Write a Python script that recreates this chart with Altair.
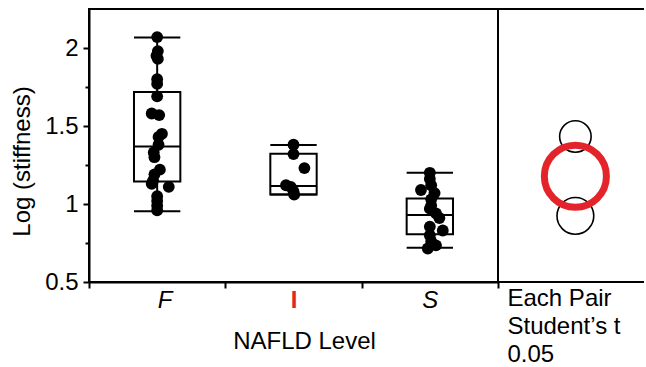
import altair as alt
import pandas as pd

# ---------------- data ----------------
groups = ["F", "I", "S"]

f_values = [2.07, 1.98, 1.95, 1.93, 1.80, 1.77, 1.69, 1.58, 1.57, 1.45, 1.43, 1.38,
            1.33, 1.30, 1.22, 1.19, 1.15, 1.13, 1.11, 1.05, 1.02, 0.99, 0.96]
f_jitter = [0.0, 0.01, -0.01, 0.01, 0.0, 0.0, 0.0, -0.08, 0.03, 0.07, 0.02, 0.02,
            -0.05, -0.04, 0.04, -0.04, -0.06, -0.08, 0.17, 0.0, 0.0, 0.0, 0.0]

i_values = [1.38, 1.32, 1.23, 1.12, 1.11, 1.08, 1.06]
i_jitter = [0.0, 0.0, 0.16, -0.11, -0.04, 0.0, 0.01]

s_values = [1.20, 1.16, 1.12, 1.09, 1.07, 1.03, 0.99, 0.97, 0.94, 0.91, 0.855,
            0.83, 0.80, 0.76, 0.735, 0.715]
s_jitter = [0.0, 0.0, 0.02, -0.13, 0.07, 0.02, 0.02, 0.0, 0.09, 0.14, 0.0,
            0.19, 0.0, 0.02, 0.09, -0.03]

box_q1 = [1.145, 1.061, 0.806]
box_median = [1.369, 1.115, 0.930]
box_q3 = [1.718, 1.322, 1.035]
whisker_lo = [0.953, 1.061, 0.720]
whisker_hi = [2.068, 1.379, 1.200]

circle_mean = [1.433, 1.178, 0.924]
circle_radius = [0.101, 0.199, 0.118]

# ---------------- layout / style ----------------
Y_MIN, Y_MAX = 0.5, 2.25
W_LEFT, W_RIGHT, H = 409, 146, 273
FONT = "Liberation Sans"
FS = 24
RED = "#e4242b"
BOX_HALF = 0.17   # half box width, in category units

idx = {g: i + 1 for i, g in enumerate(groups)}
points = pd.DataFrame({
    "group": ["F"] * len(f_values) + ["I"] * len(i_values) + ["S"] * len(s_values),
    "value": f_values + i_values + s_values,
    "jitter": f_jitter + i_jitter + s_jitter,
})
points["idx"] = points["group"].map(idx)
boxes = pd.DataFrame({
    "group": groups, "q1": box_q1, "median": box_median, "q3": box_q3,
    "lo": whisker_lo, "hi": whisker_hi,
})
boxes["idx"] = boxes["group"].map(idx)

px_per_unit = H / (Y_MAX - Y_MIN)
circles = pd.DataFrame({
    "group": groups,
    "mean": circle_mean,
    "radius": circle_radius,
    "pair": [0.53] * 3,
})
circles["size"] = (2 * circles["radius"] * px_per_unit) ** 2

yscale = alt.Scale(domain=[Y_MIN, Y_MAX], nice=False, zero=False)
yaxis = alt.Axis(
    title="Log (stiffness)", values=[0.5, 0.75, 1, 1.25, 1.5, 1.75, 2],
    format=".2~f",
    labelExpr="datum.value % 0.5 == 0 ? datum.label : ''",
    tickSize={"condition": {"test": "datum.value % 0.5 == 0", "value": 6}, "value": 4},
    tickWidth=2, tickColor="black", domainWidth=2, domainColor="black",
    labelFontSize=FS, labelPadding=5, labelColor="black", grid=False,
    titleFontSize=FS, titleFontWeight="normal", titlePadding=10, titleColor="black",
    titleY=152,
)
xscale = alt.Scale(domain=[0.5, len(groups) + 0.5], nice=False, zero=False)
label_expr = "datum.value == 0.5 ? 'F' : datum.value == 1.5 ? 'I' : datum.value == 2.5 ? 'S' : ''"
xaxis = alt.Axis(
    title="NAFLD Level", values=[0.5, 1.5, 2.5, 3.5], labelExpr=label_expr,
    labelOffset=W_LEFT / len(groups) / 2, labelAngle=0,
    tickSize=6, tickWidth=2, tickColor="black", domainWidth=2, domainColor="black",
    labelFontSize=FS, labelPadding=0, grid=False,
    labelColor={"condition": {"test": "datum.value == 1.5", "value": RED}, "value": "black"},
    labelFontStyle={"condition": {"test": "datum.value == 1.5", "value": "normal"}, "value": "italic"},
    labelFontWeight={"condition": {"test": "datum.value == 1.5", "value": "bold"}, "value": "normal"},
    titleFontSize=FS, titleFontWeight="normal", titlePadding=17, titleColor="black",
    titleX=215,
)

base_box = alt.Chart(boxes).transform_calculate(
    xl=f"datum.idx - {BOX_HALF}", xr=f"datum.idx + {BOX_HALF}")
xb = alt.X("xl:Q", scale=xscale, axis=xaxis)
whisk_up = base_box.mark_rule(color="black", strokeWidth=2).encode(
    x=alt.X("idx:Q", scale=xscale, axis=xaxis),
    y=alt.Y("q3:Q", scale=yscale, axis=yaxis), y2="hi:Q")
whisk_dn = base_box.mark_rule(color="black", strokeWidth=2).encode(
    x=alt.X("idx:Q", scale=xscale, axis=xaxis),
    y=alt.Y("lo:Q", scale=yscale, axis=yaxis), y2="q1:Q")
box = base_box.mark_rect(fillOpacity=0, stroke="black", strokeWidth=2).encode(
    x=xb, x2="xr:Q", y=alt.Y("q1:Q", scale=yscale, axis=yaxis), y2="q3:Q")
med = base_box.mark_rule(color="black", strokeWidth=2).encode(
    x=xb, x2="xr:Q", y=alt.Y("median:Q", scale=yscale, axis=yaxis))
cap_hi = base_box.mark_rule(color="black", strokeWidth=2).encode(
    x=xb, x2="xr:Q", y=alt.Y("hi:Q", scale=yscale, axis=yaxis))
cap_lo = base_box.mark_rule(color="black", strokeWidth=2).encode(
    x=xb, x2="xr:Q", y=alt.Y("lo:Q", scale=yscale, axis=yaxis))
dots = alt.Chart(points).transform_calculate(
    pos="datum.idx + datum.jitter * 0.5"
).mark_circle(size=140, color="black", opacity=1).encode(
    x=alt.X("pos:Q", scale=xscale, axis=xaxis),
    y=alt.Y("value:Q", scale=yscale, axis=yaxis),
)

left = alt.layer(whisk_up, whisk_dn, box, med, cap_hi, cap_lo, dots).properties(
    width=W_LEFT, height=H,
    view=alt.ViewBackground(stroke="black", strokeWidth=2),
)

# ---------------- right panel: comparison circles ----------------
raxis = alt.Axis(
    title=["Each Pair", "Student\u2019s t", "0.05"], labels=False, ticks=False, domain=False,
    grid=False,
    titleFontSize=FS, titleFontWeight="normal", titleColor="black",
    titleAnchor="start", titleAlign="left", titleX=9, titlePadding=4,
    titleLineHeight=28, titleBaseline="top",
)
rx = alt.X("pair:Q", scale=alt.Scale(domain=[0, 1], nice=False, zero=False), axis=raxis)
cbase = alt.Chart(circles)
black_c = cbase.transform_filter("datum.group != 'I'").mark_point(
    shape="circle", filled=False, color="black", strokeWidth=1.6, opacity=1).encode(
    x=rx, y=alt.Y("mean:Q", scale=yscale, axis=None),
    size=alt.Size("size:Q", scale=None))
red_c = cbase.transform_filter("datum.group == 'I'").mark_point(
    shape="circle", filled=False, color=RED, strokeWidth=7, opacity=1).encode(
    x=rx, y=alt.Y("mean:Q", scale=yscale, axis=None),
    size=alt.Size("size:Q", scale=None))
lines = pd.DataFrame({"yv": [Y_MIN, Y_MAX]})
frame = alt.Chart(lines).mark_rule(color="black", strokeWidth=2).encode(
    y=alt.Y("yv:Q", scale=yscale, axis=None))

right = alt.layer(frame, black_c, red_c).properties(
    width=W_RIGHT, height=H,
    view=alt.ViewBackground(stroke="transparent"),
)

chart = alt.hconcat(left, right, spacing=0, bounds="flush").properties(
    padding={"left": 9, "top": 7, "right": 0, "bottom": 0},
).configure(font=FONT)

chart.save("out.html", embed_options={"renderer": "svg", "actions": False})
